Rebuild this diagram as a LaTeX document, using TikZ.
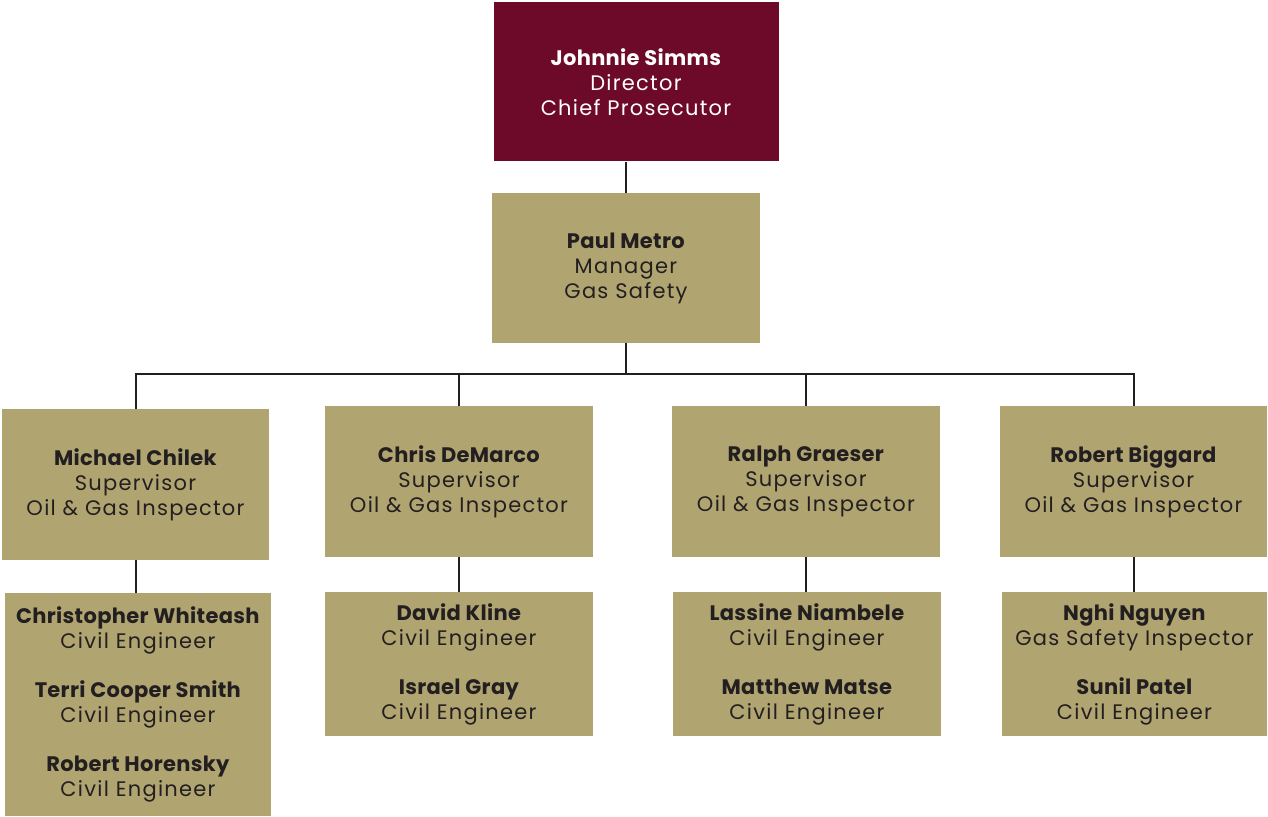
\documentclass[tikz,border=0pt]{standalone}
\usepackage{fontspec}
\setmainfont{Poppins}[LetterSpace=6,BoldFeatures={LetterSpace=1.5}]
\definecolor{tan}{HTML}{B0A571}
\definecolor{wine}{HTML}{6D0A29}
\definecolor{ink}{HTML}{231F20}
\begin{document}
\begin{tikzpicture}[x=0.5pt,y=-0.5pt,
  box/.style={fill=tan, inner sep=0pt, align=center, text=ink,
    font=\fontsize{10.5}{12.5}\selectfont},
  link/.style={draw=ink, line width=1pt}]
\useasboundingbox (0,0) rectangle (1268,817);
\node[box, fill=wine, text=white, minimum width=142.5pt, minimum height=79.5pt] (dir) at (636,82)
  {\textbf{Johnnie Simms}\\Director\\Chief Prosecutor};
\node[box, minimum width=134pt, minimum height=75pt] (man) at (626,268)
  {\textbf{Paul Metro}\\Manager\\Gas Safety};
\node[box, minimum width=133.5pt, minimum height=75.5pt] (s1) at (135.5,484.5)
  {\textbf{Michael Chilek}\\Supervisor\\Oil \& Gas Inspector};
\node[box, minimum width=134pt, minimum height=75.5pt] (s2) at (459,481.5)
  {\textbf{Chris DeMarco}\\Supervisor\\Oil \& Gas Inspector};
\node[box, minimum width=134pt, minimum height=75.5pt] (s3) at (806,481.5)
  {\textbf{Ralph Graeser}\\Supervisor\\Oil \& Gas Inspector};
\node[box, minimum width=133.5pt, minimum height=75.5pt] (s4) at (1133.5,481.5)
  {\textbf{Robert Biggard}\\Supervisor\\Oil \& Gas Inspector};
\node[box, minimum width=133pt, minimum height=111.5pt] (c1) at (138,704.5)
  {\textbf{Christopher Whiteash}\\Civil Engineer\\[12pt]\textbf{Terri Cooper Smith}\\Civil Engineer\\[12pt]\textbf{Robert Horensky}\\Civil Engineer};
\node[box, minimum width=134pt, minimum height=72pt] (c2) at (459,664)
  {\textbf{David Kline}\\Civil Engineer\\[12pt]\textbf{Israel Gray}\\Civil Engineer};
\node[box, minimum width=134pt, minimum height=72pt] (c3) at (807,664)
  {\textbf{Lassine Niambele}\\Civil Engineer\\[12pt]\textbf{Matthew Matse}\\Civil Engineer};
\node[box, minimum width=132.5pt, minimum height=72pt] (c4) at (1134.5,664)
  {\textbf{Nghi Nguyen}\\Gas Safety Inspector\\[12pt]\textbf{Sunil Patel}\\Civil Engineer};
\coordinate (bus) at (626,374);
\draw[link] (dir.south -| man.north) -- (man.north);
\draw[link] (man.south) -- (bus);
\draw[link] (s1.north) -- (s1.north |- bus) -- (s4.north |- bus) -- (s4.north);
\draw[link] (s2.north) -- (s2.north |- bus);
\draw[link] (s3.north) -- (s3.north |- bus);
\draw[link] (s1.south) -- (s1.south |- c1.north);
\draw[link] (s2.south) -- (s2.south |- c2.north);
\draw[link] (s3.south) -- (s3.south |- c3.north);
\draw[link] (s4.south) -- (s4.south |- c4.north);
\end{tikzpicture}
\end{document}
